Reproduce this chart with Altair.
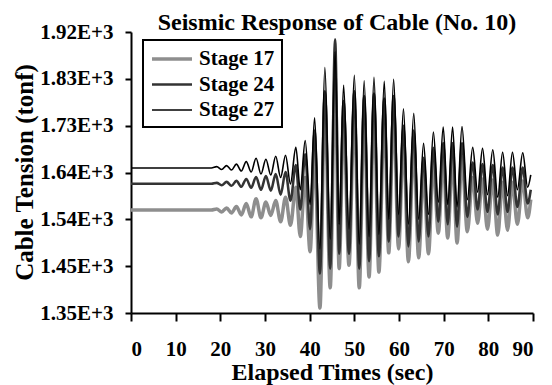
import altair as alt
import pandas as pd

# Turning points of the cable tension history (sec, tonf)
times = [
    0.0, 18.0,
    19.2, 20.3, 21.4, 22.5, 23.6, 24.7, 25.8, 26.9, 28.0, 29.1,
    30.2, 31.3, 32.4, 33.5, 34.6, 35.7, 36.9, 37.9, 39.0, 40.1,
    41.1, 42.3, 43.4, 44.6, 45.7, 46.6, 47.6, 48.8, 50.0, 51.1,
    52.2, 53.3, 54.4, 55.5, 56.7, 57.7, 58.8, 59.9, 61.0, 62.1,
    63.3, 64.4, 65.5, 66.6, 67.7, 68.8, 69.9, 70.9, 72.0, 73.0,
    74.1, 75.3, 76.5, 77.6, 78.7, 79.8, 81.0, 82.1, 83.2, 84.3,
    85.4, 86.5, 87.7, 88.8, 89.5,
]
stage17 = [
    1559, 1559,
    1561, 1555, 1563, 1553, 1566, 1549, 1572, 1545, 1582, 1543,
    1575, 1548, 1578, 1535, 1585, 1528, 1605, 1505, 1625, 1474,
    1680, 1360, 1780, 1401, 1830, 1440, 1750, 1447, 1765, 1401,
    1760, 1423, 1765, 1433, 1755, 1472, 1760, 1480, 1700, 1454,
    1690, 1462, 1635, 1470, 1655, 1512, 1665, 1502, 1665, 1492,
    1665, 1515, 1625, 1532, 1622, 1520, 1620, 1508, 1615, 1518,
    1615, 1530, 1618, 1543, 1580,
]
stage24 = [
    1612, 1612,
    1614, 1609, 1616, 1608, 1618, 1606, 1622, 1604, 1626, 1600,
    1628, 1598, 1632, 1590, 1636, 1578, 1650, 1560, 1672, 1520,
    1720, 1430, 1800, 1440, 1905, 1470, 1780, 1470, 1800, 1440,
    1790, 1455, 1795, 1465, 1785, 1495, 1790, 1505, 1730, 1485,
    1720, 1495, 1665, 1505, 1685, 1535, 1695, 1530, 1695, 1525,
    1695, 1545, 1655, 1560, 1652, 1555, 1650, 1550, 1645, 1555,
    1645, 1565, 1645, 1572, 1600,
]
stage27 = [
    1644, 1644,
    1647, 1641, 1649, 1640, 1652, 1638, 1657, 1636, 1664, 1632,
    1662, 1630, 1668, 1625, 1670, 1612, 1686, 1600, 1700, 1570,
    1746, 1480, 1848, 1500, 1880, 1530, 1812, 1520, 1832, 1490,
    1821, 1505, 1828, 1510, 1820, 1540, 1824, 1550, 1764, 1530,
    1755, 1540, 1694, 1550, 1717, 1575, 1727, 1570, 1727, 1565,
    1728, 1580, 1686, 1595, 1684, 1590, 1681, 1585, 1676, 1588,
    1676, 1600, 1675, 1605, 1630,
]

series_names = ["Stage 17", "Stage 24", "Stage 27"]
series_colors = ["#8e8e8e", "#333333", "#000000"]
series_widths = [3.5, 1.6, 1.0]

y_ticks = [1350, 1445, 1540, 1635, 1730, 1825, 1920]
y_tick_labels = ["1.35E+3", "1.45E+3", "1.54E+3", "1.64E+3", "1.73E+3", "1.83E+3", "1.92E+3"]
x_ticks = [0, 10, 20, 30, 40, 50, 60, 70, 80, 90]

rows = []
for name, values in zip(series_names, [stage17, stage24, stage27]):
    for t, v in zip(times, values):
        rows.append({"time": t, "tension": v, "series": name})
df = pd.DataFrame(rows)

label_list = "[" + ",".join("'" + s + "'" for s in y_tick_labels) + "]"
y_label_expr = f"{label_list}[round((datum.value - {y_ticks[0]}) / {y_ticks[1] - y_ticks[0]})]"

FONT = "Liberation Serif"

chart = (
    alt.Chart(df)
    .mark_line(interpolate="monotone")
    .encode(
        x=alt.X(
            "time:Q",
            scale=alt.Scale(domain=[0, 90], nice=False),
            axis=alt.Axis(
                title="Elapsed Times (sec)",
                values=x_ticks,
                tickSize=8,
                labelPadding=34,
                labelBaseline="alphabetic",
                titleX=201,
                titleY=66,
                titleBaseline="alphabetic",
                titleFontSize=24,
            ),
        ),
        y=alt.Y(
            "tension:Q",
            scale=alt.Scale(domain=[y_ticks[0], y_ticks[-1]], nice=False, zero=False),
            axis=alt.Axis(
                title="Cable Tension (tonf)",
                values=y_ticks,
                labelExpr=y_label_expr,
                tickSize=6,
                labelPadding=12,
                titleX=-99,
                titleY=140,
                titleBaseline="alphabetic",
                titleFontSize=25,
            ),
        ),
        color=alt.Color(
            "series:N",
            scale=alt.Scale(domain=series_names, range=series_colors),
            legend=alt.Legend(title=None),
        ),
        strokeWidth=alt.StrokeWidth(
            "series:N",
            scale=alt.Scale(domain=series_names, range=series_widths),
            legend=alt.Legend(title=None),
        ),
    )
    .properties(
        width=402,
        height=281,
        autosize=alt.AutoSizeParams(type="none"),
        padding={"left": 131, "top": 32, "right": 19, "bottom": 72},
        title=alt.TitleParams(
            "Seismic Response of Cable (No. 10)",
            font=FONT,
            fontSize=24,
            fontWeight="bold",
            color="black",
            anchor="middle",
            baseline="alphabetic",
            offset=-33,
            dx=5,
        ),
    )
    .configure_view(stroke=None)
    .configure_axis(
        grid=False,
        domainColor="black",
        domainWidth=2,
        tickColor="black",
        tickWidth=2,
        labelFont=FONT,
        labelFontSize=21,
        labelFontWeight="bold",
        labelColor="black",
        titleFont=FONT,
        titleFontWeight="bold",
        titleColor="black",
    )
    .configure_legend(
        orient="none",
        legendX=12,
        legendY=8,
        padding=7,
        fillColor="white",
        strokeColor="black",
        strokeWidth=2,
        symbolType="M-2,0H2",
        symbolSize=400,
        symbolOffset=10,
        labelFont=FONT,
        labelFontSize=21,
        labelFontWeight="bold",
        labelColor="black",
        labelOffset=15,
        rowPadding=4,
    )
)

chart.save("out.html", embed_options={"renderer": "svg", "actions": False})
